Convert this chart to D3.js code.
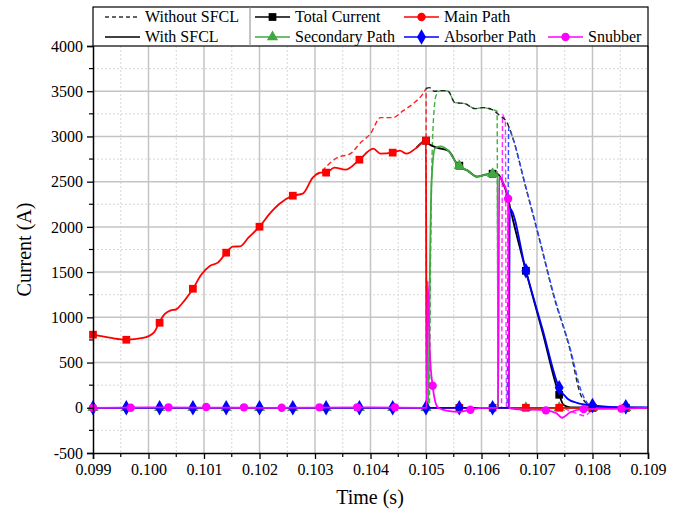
<!DOCTYPE html>
<meta charset="utf-8">
<script src="https://d3js.org/d3.v7.min.js"></script>
<html>
<head>
<style>
body { margin: 0; background: #fff; }
svg text { font-family: "Liberation Serif", "Times New Roman", serif; fill: #000; }
</style>
</head>
<body>
<svg id="chart" width="681" height="512"></svg>
<script>

// ---- data (time in s, current in A) ----
var xTicks = [0.099, 0.100, 0.101, 0.102, 0.103, 0.104, 0.105, 0.106, 0.107, 0.108, 0.109];
var yTicks = [-500, 0, 500, 1000, 1500, 2000, 2500, 3000, 3500, 4000];

// with SFCL (solid)
var mainWith = [[0.0990,808],[0.0993,775],[0.0996,752],[0.0999,772],[0.1001,835],[0.10019,940],[0.1003,1040],
  [0.10039,1075],[0.1005,1088],[0.1006,1150],[0.1008,1316],[0.10095,1470],[0.10111,1570],[0.10125,1605],
  [0.1014,1715],[0.10152,1781],[0.10165,1785],[0.1018,1880],[0.1020,2002],[0.1022,2157],[0.10235,2250],
  [0.1026,2345],[0.10278,2367],[0.10296,2544],[0.1031,2600],[0.1032,2600],[0.10335,2655],[0.10355,2633],
  [0.1038,2743],[0.10405,2865],[0.10418,2810],[0.1044,2821],[0.10453,2843],[0.10465,2810],[0.10483,2876],
  [0.1050,2953],[0.10501,0],[0.1060,0],[0.1070,0],[0.1080,0],[0.1090,0]];
var mainMarks = [[0.0990,808],[0.0996,752],[0.1002,940],[0.1008,1316],[0.1014,1715],[0.1020,2002],[0.1026,2345],
  [0.1032,2600],[0.1038,2743],[0.1044,2821],[0.1050,2953],[0.1056,0],[0.1062,0],[0.1068,0],[0.1074,0],[0.1080,0],[0.1086,0]];

var totalWith = [[0.10483,2876],[0.1050,2953],[0.10502,2931],[0.1052,2876],[0.1054,2843],[0.10558,2677],
  [0.10575,2622],[0.10592,2555],[0.10607,2577],[0.10621,2588],[0.1063,2580],[0.10637,2511],[0.10648,2312],
  [0.10652,2200],[0.1068,1515],[0.1071,835],[0.1074,144],[0.10748,30],[0.1076,5],[0.1090,0]];
var totalMarks = [[0.1050,2953],[0.1056,2677],[0.1062,2588],[0.1068,1515],[0.1074,144],[0.1080,0],[0.1086,0]];

var secWith = [[0.0990,0],[0.10504,0],[0.10507,1500],[0.1051,2500],[0.10516,2865],[0.10526,2890],[0.1054,2843],
  [0.10558,2677],[0.10575,2622],[0.10592,2555],[0.10607,2577],[0.10621,2588],[0.10629,2580],[0.1063,0],
  [0.1070,-5],[0.1080,0],[0.1090,0]];
var secMarks = [[0.0990,0],[0.0996,0],[0.1002,0],[0.1008,0],[0.1014,0],[0.1020,0],[0.1026,0],[0.1032,0],[0.1038,0],
  [0.1044,0],[0.1050,0],[0.1056,2677],[0.1062,2588],[0.1068,0],[0.1074,0],[0.1080,0],[0.1086,0]];

var absWith = [[0.0990,0],[0.10649,0],[0.10651,2201],[0.1068,1515],[0.1071,868],[0.1074,221],[0.10755,100],
  [0.10772,55],[0.1080,25],[0.1083,11],[0.1090,5]];
var absMarks = [[0.0990,0],[0.0996,0],[0.1002,0],[0.1008,0],[0.1014,0],[0.1020,0],[0.1026,0],[0.1032,0],[0.1038,0],
  [0.1044,0],[0.1050,0],[0.1056,0],[0.1062,0],[0.1068,1515],[0.1074,221],[0.1080,25],[0.1086,10]];

var snubWith = [[0.0990,0],[0.1000,5],[0.1020,0],[0.1040,5],[0.10501,0],[0.10503,1400],[0.10507,600],[0.10512,243],
  [0.10517,60],[0.10522,0],[0.1054,-35],[0.10558,-45],[0.1058,-22],[0.1060,0],[0.1063,0],[0.10632,2555],
  [0.10637,2511],[0.10648,2312],[0.1065,0],[0.1066,-15],[0.10716,-28],[0.10735,-60],[0.10745,-110],
  [0.1076,-50],[0.10784,-15],[0.1085,-10],[0.1090,0]];
var snubMarks = [[0.09900,0],[0.09968,0],[0.10036,5],[0.10104,8],[0.10172,5],[0.10240,0],[0.10308,5],[0.10376,5],
  [0.10444,5],[0.10512,243],[0.10580,-22],[0.10648,2312],[0.10716,-28],[0.10784,-15],[0.10852,-10]];

// without SFCL (dashed)
var mainWithout = [[0.1030,2575],[0.1031,2600],[0.10322,2677],[0.1034,2765],[0.10364,2810],[0.10382,2931],
  [0.1040,3031],[0.10418,3208],[0.1044,3208],[0.10459,3285],[0.10477,3363],[0.10499,3518],[0.1050,3530],
  [0.10501,0],[0.1090,0]];
var totalWithout = [[0.1050,3530],[0.10506,3540],[0.10515,3500],[0.10529,3507],[0.1054,3500],[0.10552,3374],
  [0.1057,3363],[0.10588,3308],[0.10603,3319],[0.10619,3296],[0.10633,3230],[0.10646,3153],[0.10655,3009],
  [0.1068,2430],[0.10705,1847],[0.1073,1240],[0.1076,630],[0.10778,155],[0.1079,44],[0.1080,12],[0.1082,0],[0.1090,0]];
var secWithout = [[0.1050,0],[0.10506,0],[0.10508,1500],[0.10512,3000],[0.10518,3450],[0.10526,3505],
  [0.1054,3500],[0.10552,3374],[0.1057,3363],[0.10588,3308],[0.10603,3319],[0.10619,3296],[0.10628,3280],
  [0.1063,0],[0.1090,0]];
var snubWithout = [[0.1063,0],[0.10636,0],[0.10638,3240],[0.10641,3200],[0.10643,3150],[0.10645,0],
  [0.1074,0],[0.1077,-60],[0.10785,-88],[0.1080,-30],[0.1083,0],[0.1090,0]];
var absWithout = [[0.1064,0],[0.10646,0],[0.10649,3100],[0.10655,3009],[0.1068,2440],[0.10705,1860],
  [0.1073,1255],[0.1076,650],[0.1078,180],[0.10795,30],[0.1082,0],[0.1090,0]];

// ---- layout ----
var svg = d3.select("#chart");
var pLeft = 93, pRight = 648, pTop = 46, pBottom = 453;

var x = d3.scaleLinear().domain([0.099, 0.109]).range([pLeft, pRight]);
var y = d3.scaleLinear().domain([-500, 4000]).range([pBottom, pTop]);

// grid: minor dashed, major solid
var minorX = d3.range(0, 10).map(function(i){ return 0.0995 + i * 0.001; });
var minorY = d3.range(0, 9).map(function(i){ return -250 + i * 500; });

var grid = svg.append("g");
grid.selectAll(".mx").data(minorX).enter().append("line")
  .attr("x1", function(d){ return x(d); }).attr("x2", function(d){ return x(d); })
  .attr("y1", pTop).attr("y2", pBottom)
  .attr("stroke", "#d8d8d8").attr("stroke-dasharray", "2,2");
grid.selectAll(".my").data(minorY).enter().append("line")
  .attr("x1", pLeft).attr("x2", pRight)
  .attr("y1", function(d){ return y(d); }).attr("y2", function(d){ return y(d); })
  .attr("stroke", "#d8d8d8").attr("stroke-dasharray", "2,2");
grid.selectAll(".gx").data(xTicks.slice(1, -1)).enter().append("line")
  .attr("x1", function(d){ return x(d); }).attr("x2", function(d){ return x(d); })
  .attr("y1", pTop).attr("y2", pBottom)
  .attr("stroke", "#c4c4c4").attr("stroke-width", 1.5);
grid.selectAll(".gy").data(yTicks.slice(1, -1)).enter().append("line")
  .attr("x1", pLeft).attr("x2", pRight)
  .attr("y1", function(d){ return y(d); }).attr("y2", function(d){ return y(d); })
  .attr("stroke", "#c4c4c4").attr("stroke-width", 1.5);

// ---- lines ----
var line = d3.line()
  .x(function(d){ return x(d[0]); })
  .y(function(d){ return y(d[1]); })
  .curve(d3.curveMonotoneX);

var plot = svg.append("g");

function dashed(data, color) {
  plot.append("path").datum(data)
    .attr("d", line).attr("fill", "none")
    .attr("stroke", color).attr("stroke-width", 1.4)
    .attr("stroke-dasharray", "5,3");
}
dashed(mainWithout, "#ff2020");
dashed(secWithout, "#40b040");
dashed(snubWithout, "#ff30ff");
dashed(totalWithout, "#222");
dashed(absWithout, "#3050ff");

var sym = {
  square: d3.symbol().type(d3.symbolSquare).size(60),
  circle: d3.symbol().type(d3.symbolCircle).size(55),
  triangle: d3.symbol().type(d3.symbolTriangle).size(55),
  diamond: d3.symbol().type(d3.symbolDiamond).size(70)
};

function solid(data, marks, color, shape) {
  plot.append("path").datum(data)
    .attr("d", line).attr("fill", "none")
    .attr("stroke", color).attr("stroke-width", 1.8);
  plot.selectAll(null).data(marks).enter().append("path")
    .attr("d", sym[shape])
    .attr("transform", function(d){ return "translate(" + x(d[0]) + "," + y(d[1]) + ")"; })
    .attr("fill", color);
}
solid(totalWith, totalMarks, "#000", "square");
solid(secWith, secMarks, "#3fa83f", "triangle");
solid(mainWith, mainMarks, "#ff0000", "square");
solid(absWith, absMarks, "#0000ff", "diamond");
solid(snubWith, snubMarks, "#ff00ff", "circle");

// ---- axes ----
var xAxis = d3.axisBottom(x).tickValues(xTicks).tickFormat(d3.format(".3f")).tickSize(6).tickPadding(5);
var yAxis = d3.axisLeft(y).tickValues(yTicks).tickFormat(function(d){ return String(d); }).tickSize(6).tickPadding(4);

var gx = svg.append("g").attr("transform", "translate(0," + pBottom + ")").call(xAxis);
var gy = svg.append("g").attr("transform", "translate(" + pLeft + ",0)").call(yAxis);
[gx, gy].forEach(function(g){
  g.attr("font-family", "Liberation Serif");
  g.select(".domain").attr("stroke-width", 1.5);
  g.selectAll(".tick line").attr("stroke-width", 1.3);
  g.selectAll(".tick text")
    .style("font-family", "'Liberation Serif', 'Times New Roman', serif")
    .style("font-size", "16px");
});

// minor ticks
svg.append("g").selectAll("line").data(minorX).enter().append("line")
  .attr("x1", function(d){ return x(d); }).attr("x2", function(d){ return x(d); })
  .attr("y1", pBottom).attr("y2", pBottom + 4).attr("stroke", "#000").attr("stroke-width", 1.2);
svg.append("g").selectAll("line").data(minorY).enter().append("line")
  .attr("x1", pLeft - 4).attr("x2", pLeft)
  .attr("y1", function(d){ return y(d); }).attr("y2", function(d){ return y(d); })
  .attr("stroke", "#000").attr("stroke-width", 1.2);

// right frame
svg.append("line").attr("x1", pRight).attr("x2", pRight).attr("y1", pTop).attr("y2", pBottom)
  .attr("stroke", "#000").attr("stroke-width", 1.5);

// axis titles
svg.append("text").attr("x", 370).attr("y", 504)
  .attr("text-anchor", "middle").style("font-size", "20px").text("Time (s)");
svg.append("text").attr("transform", "translate(31," + ((pTop + pBottom) / 2) + ") rotate(-90)")
  .attr("text-anchor", "middle").style("font-size", "20px").text("Current (A)");

// ---- legend ----
var leg = svg.append("g");
leg.append("rect").attr("x", pLeft).attr("y", 7).attr("width", pRight - pLeft).attr("height", pTop - 7)
  .attr("fill", "#fff").attr("stroke", "#000").attr("stroke-width", 1.2);
leg.append("line").attr("x1", 250).attr("x2", 250).attr("y1", 7).attr("y2", pTop)
  .attr("stroke", "#888").attr("stroke-width", 1);

var legItems = [
  {label: "Without SFCL", color: "#333", dash: "4,3", shape: null, lx: 105, ly: 17},
  {label: "With SFCL", color: "#000", dash: null, shape: null, lx: 105, ly: 37},
  {label: "Total Current", color: "#000", dash: null, shape: "square", lx: 255, ly: 17},
  {label: "Secondary Path", color: "#3fa83f", dash: null, shape: "triangle", lx: 255, ly: 37},
  {label: "Main Path", color: "#ff0000", dash: null, shape: "circle", lx: 404, ly: 17},
  {label: "Absorber Path", color: "#0000ff", dash: null, shape: "diamond", lx: 404, ly: 37},
  {label: "Snubber", color: "#ff00ff", dash: null, shape: "circle", lx: 548, ly: 37}
];
legItems.forEach(function(it){
  leg.append("line").attr("x1", it.lx).attr("x2", it.lx + 35).attr("y1", it.ly).attr("y2", it.ly)
    .attr("stroke", it.color).attr("stroke-width", it.dash ? 1.3 : 1.6)
    .attr("stroke-dasharray", it.dash);
  if (it.shape) {
    leg.append("path").attr("d", sym[it.shape])
      .attr("transform", "translate(" + (it.lx + 17.5) + "," + it.ly + ")").attr("fill", it.color);
  }
  leg.append("text").attr("x", it.lx + 40).attr("y", it.ly + 5).style("font-size", "16px").text(it.label);
});

</script>
</body>
</html>
